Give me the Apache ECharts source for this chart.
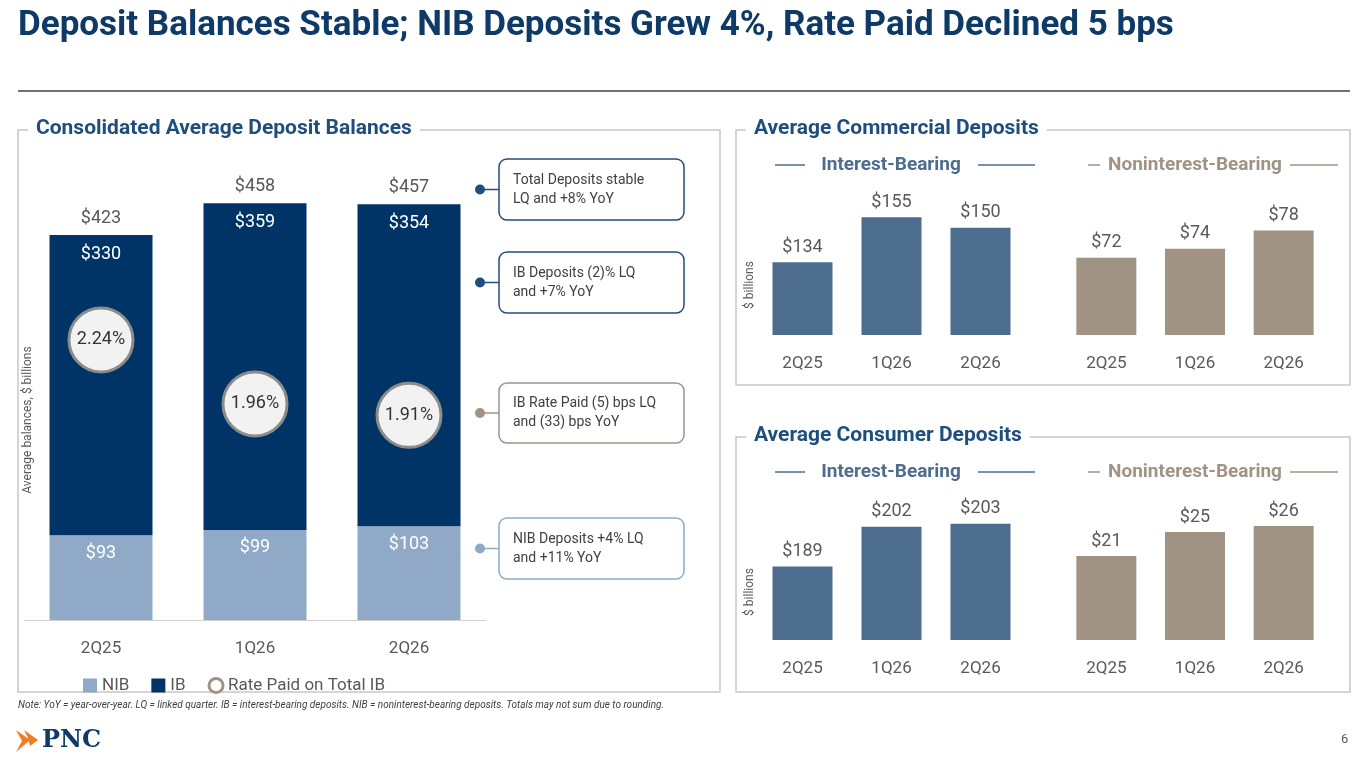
<!DOCTYPE html>
<html><head><meta charset="utf-8">
<script src="https://cdn.jsdelivr.net/npm/echarts@6/dist/echarts.min.js"></script>
<style>html,body{margin:0;background:#fff}#c{width:1365px;height:768px}</style>
</head><body><div id="c"></div>
<script>
// 数据
const quarters = ['2Q25', '1Q26', '2Q26'];
const nib = [93, 99, 103];
const ib = [330, 359, 354];
const totals = [423, 458, 457];
const rates = [2.24, 1.96, 1.91];
const commIB = [134, 155, 150];
const commNIB = [72, 74, 78];
const consIB = [189, 202, 203];
const consNIB = [21, 25, 26];

const FONT = 'Roboto, "Open Sans", sans-serif';
const navy = '#0d3a66', head = '#1f4e7d', steel = '#4d6d8e', tan = '#a09384', gray = '#595959';

let myChart = echarts.init(document.getElementById('c'));

function smallAxis(grid) {
    return {
        type: 'category', gridIndex: grid, data: quarters,
        axisLine: { show: false }, axisTick: { show: false },
        axisLabel: { color: gray, fontSize: 17, margin: 20, fontFamily: FONT }
    };
}
function smallY(grid, min, max) {
    return { type: 'value', gridIndex: grid, min: min, max: max, show: false, splitLine: { show: false } };
}
function smallBar(i, data, color) {
    return {
        type: 'bar', xAxisIndex: i, yAxisIndex: i + 1, data: data, barWidth: 60,
        itemStyle: { color: color }, silent: true,
        label: { show: true, position: 'top', distance: 6, color: gray, fontSize: 18, fontFamily: FONT, formatter: '${c}' }
    };
}

// 面板框 + 标题
function panel(x, y, w, h, title) {
    return [
        { type: 'rect', shape: { x: x, y: y, width: w, height: h }, style: { fill: 'none', stroke: '#c8c8c8', lineWidth: 1.5 } },
        { type: 'text', x: x + 10, y: y - 12, style: { text: title, fill: head, font: 'bold 21px ' + FONT, backgroundColor: '#fff', padding: [0, 8] } }
    ];
}
function subHead(cx, y, text, color, l1, l2) {
    return [
        { type: 'line', shape: { x1: l1[0], y1: y, x2: l1[1], y2: y }, style: { stroke: color, lineWidth: 1.5 } },
        { type: 'line', shape: { x1: l2[0], y1: y, x2: l2[1], y2: y }, style: { stroke: color, lineWidth: 1.5 } },
        { type: 'text', x: cx, y: y, style: { text: text, fill: color, font: 'bold 19px ' + FONT, align: 'center', verticalAlign: 'middle' } }
    ];
}
function callout(y, h, text, color) {
    return [
        { type: 'line', shape: { x1: 480, y1: y + h / 2, x2: 499, y2: y + h / 2 }, style: { stroke: color, lineWidth: 1.5 } },
        { type: 'circle', shape: { cx: 480, cy: y + h / 2, r: 5 }, style: { fill: color } },
        { type: 'rect', shape: { x: 499, y: y, width: 185, height: h, r: 8 }, style: { fill: '#fff', stroke: color, lineWidth: 1.5 } },
        { type: 'text', x: 513, y: y + h / 2, style: { text: text, fill: '#404040', font: '14px ' + FONT, verticalAlign: 'middle', lineHeight: 19 } }
    ];
}

let graphics = [].concat(
    [{ type: 'text', x: 18, y: 9, style: { text: 'Deposit Balances Stable; NIB Deposits Grew 4%, Rate Paid Declined 5 bps', fill: navy, font: 'bold 35px ' + FONT } },
     { type: 'line', shape: { x1: 18, y1: 91, x2: 1350, y2: 91 }, style: { stroke: '#404040', lineWidth: 1.5 } }],
    panel(18, 130, 702, 562, 'Consolidated Average Deposit Balances'),
    panel(736, 130, 614, 255, 'Average Commercial Deposits'),
    panel(736, 437, 614, 255, 'Average Consumer Deposits'),
    subHead(891, 165, 'Interest-Bearing', steel, [775, 805], [978, 1035]),
    subHead(1195, 165, 'Noninterest-Bearing', tan, [1088, 1100], [1290, 1338]),
    subHead(891, 472, 'Interest-Bearing', steel, [775, 805], [978, 1035]),
    subHead(1195, 472, 'Noninterest-Bearing', tan, [1088, 1100], [1290, 1338]),
    callout(159, 61, 'Total Deposits stable\nLQ and +8% YoY', head),
    callout(252, 61, 'IB Deposits (2)% LQ\nand +7% YoY', head),
    callout(383, 60, 'IB Rate Paid (5) bps LQ\nand (33) bps YoY', tan),
    callout(518, 61, 'NIB Deposits +4% LQ\nand +11% YoY', '#8fa9c6'),
    [{ type: 'text', x: 28, y: 420, rotation: Math.PI / 2, style: { text: 'Average balances, $ billions', fill: gray, font: '12px ' + FONT, align: 'center', verticalAlign: 'middle' } },
     { type: 'text', x: 750, y: 285, rotation: Math.PI / 2, style: { text: '$ billions', fill: gray, font: '12px ' + FONT, align: 'center', verticalAlign: 'middle' } },
     { type: 'text', x: 750, y: 592, rotation: Math.PI / 2, style: { text: '$ billions', fill: gray, font: '12px ' + FONT, align: 'center', verticalAlign: 'middle' } },
     { type: 'text', x: 18, y: 700, style: { text: 'Note: YoY = year-over-year. LQ = linked quarter. IB = interest-bearing deposits. NIB = noninterest-bearing deposits. Totals may not sum due to rounding.', fill: '#404040', font: 'italic 10px ' + FONT } },
     { type: 'polygon', shape: { points: [[16, 730], [30, 740], [16, 752], [22, 741]] }, style: { fill: '#ef7d22' } },
     { type: 'polygon', shape: { points: [[24, 730], [38, 740], [30, 746], [28, 738]] }, style: { fill: '#ef7d22' } },
     { type: 'text', x: 42, y: 729, style: { text: 'PNC', fill: '#0d3a66', font: 'bold 24px "DejaVu Serif", serif' } },
     { type: 'text', x: 1341, y: 733, style: { text: '6', fill: gray, font: '13px ' + FONT } }]
);

let option = {
    animation: false,
    textStyle: { fontFamily: FONT },
    graphic: graphics,
    legend: {
        left: 78, top: 672, itemWidth: 14, itemHeight: 14, itemGap: 22,
        textStyle: { color: gray, fontSize: 17 },
        data: [
            { name: 'NIB', icon: 'rect' },
            { name: 'IB', icon: 'rect' },
            { name: 'Rate Paid on Total IB', icon: 'circle', itemStyle: { color: '#fff', borderColor: tan, borderWidth: 3 } }
        ]
    },
    grid: [
        { left: 24, top: 165, width: 462, height: 455 },
        { left: 758, top: 185, width: 267, height: 150 },
        { left: 1062, top: 185, width: 266, height: 150 },
        { left: 758, top: 490, width: 267, height: 150 },
        { left: 1062, top: 490, width: 266, height: 150 }
    ],
    xAxis: [
        {
            type: 'category', gridIndex: 0, data: quarters,
            axisLine: { lineStyle: { color: '#d0d0d0' } }, axisTick: { show: false },
            axisLabel: { color: gray, fontSize: 17, margin: 20 }
        },
        smallAxis(1), smallAxis(2), smallAxis(3), smallAxis(4)
    ],
    yAxis: [
        { type: 'value', gridIndex: 0, min: 0, max: 500, show: false, splitLine: { show: false } },
        { type: 'value', gridIndex: 0, min: 1.015, max: 3.005, show: false, splitLine: { show: false } },
        smallY(1, 100, 170), smallY(2, 55, 88), smallY(3, 165, 214), smallY(4, 7, 32)
    ],
    series: [
        {
            name: 'NIB', type: 'bar', stack: 'a', data: nib, barWidth: 103,
            itemStyle: { color: '#8fa9c6' },
            label: { show: true, position: 'insideTop', distance: 9, color: '#fff', fontSize: 18, formatter: '${c}' }
        },
        {
            name: 'IB', type: 'bar', stack: 'a', data: ib, barWidth: 103,
            itemStyle: { color: '#003466' },
            label: { show: true, position: 'insideTop', distance: 10, color: '#fff', fontSize: 18, formatter: '${c}' }
        },
        {
            name: 'total', type: 'bar', stack: 'a', data: [0, 0, 0], barWidth: 103,
            label: { show: true, position: 'top', distance: 8, color: gray, fontSize: 18, formatter: p => '$' + totals[p.dataIndex] }
        },
        {
            name: 'Rate Paid on Total IB', type: 'scatter', yAxisIndex: 1, data: rates,
            symbol: 'circle', symbolSize: 64, z: 5,
            itemStyle: { color: '#f2f2f2', borderColor: '#8c8c8c', borderWidth: 3, opacity: 1 },
            label: { show: true, position: 'inside', color: '#333', fontSize: 18, formatter: p => p.value.toFixed(2) + '%' }
        },
        smallBar(1, commIB, steel),
        smallBar(2, commNIB, tan),
        smallBar(3, consIB, steel),
        smallBar(4, consNIB, tan)
    ]
};
myChart.setOption(option);
</script>
</body></html>
